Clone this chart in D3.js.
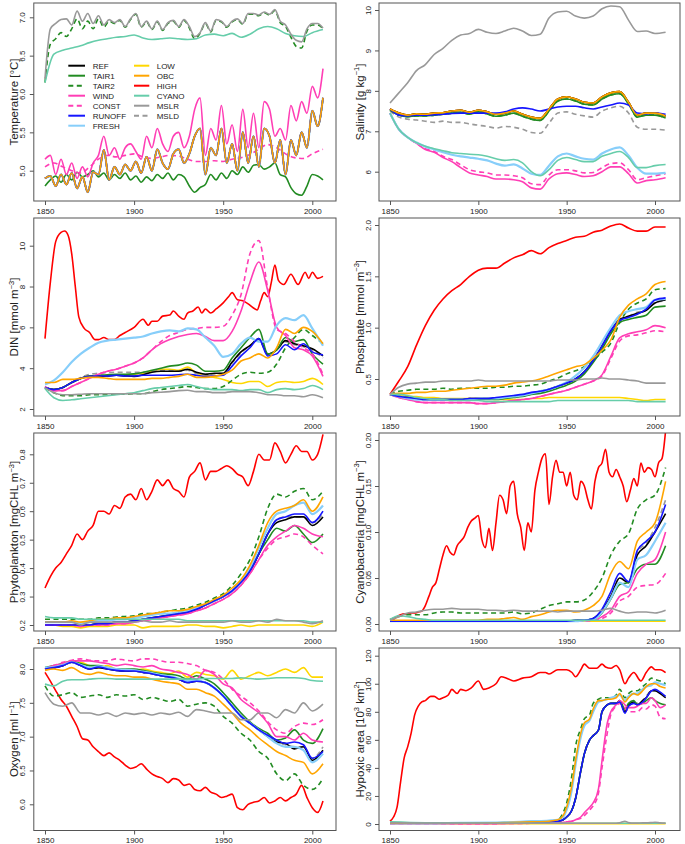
<!DOCTYPE html>
<html><head><meta charset="utf-8">
<script src="https://cdn.jsdelivr.net/npm/d3@7"></script>
<style>body{margin:0;background:#fff}svg text{font-family:"Liberation Sans",Arial,Helvetica,sans-serif;fill:#222}</style>
</head><body><script>
// ---------- year grids ----------
const Y5 = [1850,1855,1860,1865,1870,1875,1880,1885,1890,1895,1900,1905,1910,1915,1920,1925,1930,1935,1940,1945,1950,1955,1960,1965,1970,1975,1980,1985,1990,1995,2000,2006];
const Y3 = d3.range(1850, 2007, 3);
const Y2 = d3.range(1850, 2007, 2);
const xTicks = [1850, 1900, 1950, 2000];
const scenarios = ["REF","TAIR1","TAIR2","WIND","CONST","RUNOFF","FRESH","LOW","OBC","HIGH","CYANO","MSLR","MSLD"];

// ---------- Temperature ----------
const tempREF = [4.90,4.93,4.80,4.95,4.82,4.97,4.77,4.92,4.72,4.98, 4.95,5.27,4.88,5.05,4.95,5.08,5.00,5.12,4.97,5.18, 5.00,5.28,5.10,5.02,5.22,5.28,5.10,5.22,5.45,5.55, 4.95,5.30,5.20,5.55,5.10,5.35,5.00,5.50,5.10,5.45, 5.05,5.55,5.45,5.10,5.40,4.95,5.40,5.20,5.50,5.30, 5.78,5.58,5.95];
const tempWIND = [5.15,5.20,4.95,5.15,4.95,5.10,4.90,5.05,4.92,5.10, 5.20,5.45,5.20,5.30,5.15,5.30,5.35,5.25,5.15,5.45, 5.30,5.55,5.35,5.25,5.45,5.50,5.30,5.45,5.80,5.95, 5.20,5.55,5.40,5.85,5.35,5.60,5.25,5.80,5.30,5.75, 5.30,5.90,5.80,5.45,5.55,5.40,5.85,5.65,5.90,5.75, 6.10,5.95,6.33];
const tempTAIR1 = [4.80,4.88,4.93,4.85,4.95,4.88,4.98,4.92,4.95,5.00, 4.92,4.97,4.88,4.95,4.90,4.97,4.88,4.93,4.85,4.92, 4.87,4.95,4.90,4.97,4.88,4.95,4.92,4.80,4.72,4.78, 4.82,4.95,4.88,4.97,4.90,5.00,4.95,5.05,4.98,5.07, 5.08,5.02,5.05,5.10,4.95,4.92,4.78,4.70,4.68,4.80, 4.95,4.93,4.88];
const tempMSLR = [6.20,6.85,6.92,6.97,6.98,6.90,7.08,6.95,7.05,6.92, 7.02,6.90,6.97,6.93,6.97,6.88,6.98,7.05,6.88,6.95, 6.85,6.95,6.84,6.93,6.96,6.88,6.97,6.88,6.75,6.80, 6.93,6.82,6.97,6.95,6.88,6.95,6.98,6.92,7.05,7.05, 7.03,7.07,7.04,7.10,6.95,6.90,6.78,6.70,6.68,6.85, 6.92,6.92,6.86];
const tempTAIR2 = [6.15,6.65,6.72,6.80,6.75,6.85,6.98,6.85,6.95,6.85, 6.98,6.87,6.95,6.92,6.96,6.87,6.97,7.04,6.87,6.94, 6.84,6.94,6.83,6.92,6.95,6.87,6.96,6.86,6.72,6.79, 6.92,6.81,6.96,6.94,6.87,6.94,6.97,6.91,7.04,7.04, 7.02,7.06,7.03,7.09,6.93,6.88,6.74,6.62,6.60,6.82, 6.90,6.90,6.85];
const tempCYANO = [6.15,6.52,6.57,6.60,6.63,6.67,6.70,6.72, 6.74,6.75,6.77,6.73,6.71,6.72,6.73,6.72, 6.71,6.72,6.77,6.78,6.76,6.79,6.74,6.78, 6.85,6.88,6.85,6.79,6.76,6.75,6.80,6.84];
const tempCONST = [5.05,5.10,5.05,5.00,4.97,5.05,5.15,5.20, 5.18,5.20,5.22,5.18,5.16,5.18,5.20,5.19, 5.15,5.12,5.12,5.13,5.12,5.15,5.17,5.21, 5.28,5.34,5.30,5.22,5.17,5.16,5.22,5.28];

// ---------- Salinity ----------
const salMSLR = [7.70,7.95,8.20,8.50,8.65,8.90,9.05,9.25, 9.38,9.42,9.52,9.45,9.42,9.48,9.55,9.48, 9.37,9.40,9.80,9.95,9.97,9.85,9.80,9.85, 10.03,10.10,10.08,9.75,9.47,9.48,9.42,9.45];
const salMain = [7.55,7.45,7.40,7.43,7.42,7.45,7.46,7.50, 7.52,7.47,7.52,7.48,7.42,7.45,7.50,7.42, 7.35,7.32,7.55,7.80,7.85,7.80,7.72,7.70, 7.85,7.95,7.98,7.72,7.40,7.45,7.45,7.38];
const salTAIR = [7.53,7.40,7.36,7.38,7.38,7.40,7.42,7.45, 7.47,7.42,7.48,7.43,7.37,7.40,7.45,7.37, 7.30,7.27,7.50,7.75,7.80,7.75,7.67,7.65, 7.80,7.90,7.93,7.68,7.35,7.40,7.40,7.33];
const salRUNOFF = [7.55,7.40,7.38,7.40,7.40,7.41,7.42,7.44, 7.45,7.45,7.45,7.45,7.45,7.48,7.55,7.58, 7.55,7.50,7.55,7.60,7.62,7.62,7.58,7.55, 7.60,7.65,7.70,7.65,7.45,7.43,7.45,7.42];
const salMSLD = [7.50,7.35,7.30,7.28,7.25,7.22,7.25,7.22, 7.22,7.18,7.15,7.12,7.08,7.12,7.10,7.05, 6.97,6.95,7.20,7.45,7.48,7.42,7.38,7.35, 7.50,7.58,7.62,7.45,7.10,7.05,7.05,7.03];
const salFRESH = [7.45,7.05,6.85,6.72,6.62,6.55,6.48,6.42, 6.38,6.35,6.32,6.28,6.20,6.15,6.18,6.08, 5.95,5.92,6.15,6.38,6.45,6.38,6.32,6.30, 6.45,6.55,6.60,6.40,6.10,5.95,5.95,5.97];
const salCYANO = [7.45,7.05,6.85,6.72,6.63,6.57,6.52,6.47, 6.45,6.43,6.42,6.38,6.32,6.28,6.30,6.22, 6.00,5.90,6.05,6.28,6.35,6.30,6.25,6.25, 6.38,6.45,6.50,6.35,6.10,6.10,6.15,6.18];
const salWIND = [7.45,7.05,6.85,6.70,6.55,6.48,6.35,6.25, 6.10,5.97,5.92,5.88,5.82,5.82,5.80,5.75, 5.60,5.57,5.82,5.95,5.97,5.93,5.88,5.90, 6.00,6.12,6.12,5.95,5.72,5.78,5.80,5.85];
const salCONST = [7.45,7.05,6.85,6.70,6.57,6.50,6.38,6.30, 6.17,6.05,6.00,5.97,5.92,5.92,5.90,5.85, 5.70,5.68,5.92,6.05,6.05,6.02,5.97,5.98, 6.10,6.20,6.22,6.05,5.80,5.85,5.90,5.95];

// ---------- DIN ----------
const dinHighYears = [1850,1853,1856,1859,1861,1863,1865,1867,1869,1872,1875,1878,1880,1883,1886,1889,1892,1895,1900,1905,1908,1910,1913,1916,1920,1922,1925,1928,1930,1933,1936,1938,1940,1943,1946,1950,1953,1955,1958,1961,1964,1967,1969,1971,1973,1975,1977,1979,1981,1984,1988,1992,1996,1998,2000,2003,2006];
const dinHIGH = [5.45,8.20,10.20,10.65,10.72,10.50,9.60,8.00,6.50,5.95, 5.75,5.40,5.40,5.50,5.40,5.40,5.60,5.75,6.00,6.40, 6.10,6.30,6.30,6.55,6.60,6.80,6.55,6.40,6.70,6.80, 7.00,6.70,6.90,6.70,6.90,7.20,7.50, 7.70,7.35,7.30,7.15,6.95,6.85,7.30,7.70,7.50,8.20,9.05,8.30,8.10,8.60,8.10,8.70,8.40,8.70,8.40,8.50];
const dinFRESH = [3.20,3.40,3.80,4.30,4.70,5.00,5.25,5.35, 5.40,5.45,5.50,5.55,5.70,5.80,5.85,5.80, 5.95,5.90,5.50,5.10,4.55,4.70,5.20,5.50, 5.30,5.30,6.10,6.45,6.35,6.60,5.95,5.10];
const dinWIND = [3.10,2.90,2.90,3.10,3.30,3.50,3.70,3.85, 3.95,4.10,4.25,4.50,4.90,5.20,5.40,5.55, 5.65,5.70,5.55,5.35,5.35,5.80,6.80,8.20, 9.20,7.80,6.00,5.60,5.00,4.90,4.60,3.60];
const dinCONST = [3.10,2.90,2.90,3.10,3.30,3.50,3.70,3.85, 3.95,4.10,4.25,4.50,4.90,5.30,5.60,5.75, 5.90,5.95,6.00,6.00,6.05,6.60,7.60,9.60, 10.25,7.90,5.90,5.70,5.30,5.00,4.70,3.70];
const dinREF = [3.05,2.95,3.05,3.30,3.50,3.60,3.60,3.62, 3.65,3.62,3.60,3.68,3.80,3.85,3.85,3.85, 3.95,3.80,3.70,3.75,3.75,4.30,4.80,5.10, 5.45,4.70,4.90,5.35,5.20,5.10,4.95,4.60];
const dinTAIR1 = [3.05,2.95,3.05,3.30,3.50,3.62,3.65,3.68, 3.70,3.70,3.72,3.80,3.90,4.00,4.10,4.15, 4.25,4.15,3.85,3.85,3.90,4.50,5.00,5.50, 5.90,4.70,4.90,5.50,5.30,5.40,4.70,4.20];
const dinRUNOFF = [3.05,2.95,3.05,3.30,3.50,3.60,3.62,3.62, 3.65,3.62,3.62,3.65,3.65,3.65,3.65,3.68, 3.70,3.65,3.60,3.62,3.65,4.10,4.60,5.00, 5.45,4.60,4.70,5.15,4.90,5.20,4.80,4.65];
const dinOBC = [3.30,3.30,3.45,3.45,3.50,3.55,3.55,3.50, 3.45,3.45,3.45,3.45,3.50,3.50,3.55,3.60, 3.70,3.55,3.55,3.60,3.70,3.90,4.35,4.50, 4.70,4.50,5.00,5.90,5.70,6.00,5.80,5.20];
const dinTAIR2 = [3.05,2.80,2.65,2.65,2.65,2.70,2.70,2.70, 2.72,2.72,2.75,2.75,2.85,2.95,3.00,3.05, 3.10,3.05,3.00,3.00,3.10,3.40,3.70,3.80, 3.75,3.80,4.20,5.00,5.50,5.90,5.60,5.20];
const dinLOW = [3.05,2.95,3.05,3.30,3.50,3.60,3.60,3.65, 3.65,3.65,3.70,3.75,3.85,3.95,3.95,3.90, 4.05,3.75,3.65,3.55,3.45,3.30,3.25,3.35, 3.35,3.10,3.30,3.35,3.30,3.35,3.50,3.20];
const dinMSLD = [3.05,2.95,3.05,3.30,3.55,3.70,3.75,3.78, 3.80,3.80,3.80,3.80,3.85,3.88,3.88,3.85, 3.90,3.75,3.70,3.72,3.75,4.25,4.75,5.10, 5.40,4.65,4.90,5.30,5.15,5.05,4.90,4.50];
const dinMSLR = [3.05,2.80,2.70,2.70,2.72,2.75,2.75,2.75, 2.75,2.75,2.75,2.75,2.80,2.82,2.85,2.90, 2.92,2.85,2.85,2.80,2.80,2.85,2.85,2.85, 2.80,2.70,2.70,2.65,2.65,2.60,2.70,2.55];
const dinCYANO = [3.00,2.55,2.42,2.45,2.50,2.55,2.60,2.65, 2.70,2.75,2.80,2.90,3.00,3.05,3.10,3.15, 3.20,3.10,3.00,2.95,2.95,2.95,2.90,2.95, 2.95,2.80,2.95,3.00,2.95,3.00,3.15,2.95];

// ---------- Phosphate ----------
const phHIGH = [0.35,0.48,0.62,0.83,1.02,1.17,1.28,1.36, 1.42,1.50,1.56,1.58,1.58,1.63,1.68,1.71, 1.75,1.72,1.78,1.82,1.85,1.88,1.89,1.93, 1.95,1.99,2.01,1.97,1.94,1.94,1.98,1.98];
const phOBC = [0.35,0.36,0.36,0.37,0.37,0.38,0.38,0.39, 0.40,0.41,0.42,0.43,0.43,0.44,0.46,0.47, 0.48,0.50,0.53,0.56,0.59,0.62,0.64,0.70, 0.78,0.88,1.10,1.22,1.28,1.33,1.42,1.45];
const phTAIR2 = [0.35,0.38,0.39,0.40,0.40,0.40,0.41,0.40, 0.41,0.41,0.41,0.41,0.42,0.42,0.43,0.43, 0.44,0.45,0.48,0.51,0.55,0.58,0.62,0.68, 0.76,0.85,1.05,1.18,1.24,1.28,1.37,1.38];
const phREF = [0.35,0.33,0.32,0.31,0.30,0.30,0.30,0.30, 0.30,0.31,0.31,0.31,0.31,0.32,0.33,0.34, 0.36,0.38,0.40,0.43,0.46,0.50,0.57,0.68, 0.82,0.97,1.08,1.11,1.14,1.17,1.24,1.27];
const phRUNOFF = [0.35,0.33,0.32,0.31,0.30,0.30,0.30,0.30, 0.30,0.31,0.31,0.31,0.32,0.33,0.34,0.35, 0.37,0.38,0.40,0.43,0.46,0.50,0.57,0.68, 0.82,0.97,1.07,1.10,1.13,1.18,1.27,1.29];
const phFRESH = [0.35,0.33,0.31,0.30,0.30,0.30,0.30,0.30, 0.30,0.30,0.31,0.31,0.31,0.32,0.33,0.34, 0.36,0.38,0.40,0.43,0.47,0.53,0.61,0.72, 0.86,1.00,1.12,1.16,1.18,1.20,1.27,1.28];
const phTAIR1 = [0.35,0.33,0.32,0.31,0.30,0.30,0.30,0.30, 0.30,0.30,0.30,0.30,0.30,0.31,0.32,0.33, 0.35,0.36,0.38,0.41,0.44,0.48,0.55,0.66, 0.79,0.94,1.05,1.08,1.10,1.12,1.20,1.21];
const phMSLD = [0.35,0.33,0.32,0.31,0.30,0.30,0.30,0.30, 0.30,0.31,0.31,0.31,0.31,0.32,0.33,0.34, 0.36,0.38,0.40,0.43,0.46,0.50,0.57,0.68, 0.82,0.96,1.07,1.11,1.15,1.17,1.25,1.26];
const phWIND = [0.35,0.32,0.30,0.28,0.27,0.27,0.27,0.27, 0.27,0.27,0.26,0.26,0.27,0.28,0.29,0.30, 0.31,0.33,0.35,0.37,0.39,0.42,0.45,0.48, 0.54,0.72,0.90,0.94,0.96,0.98,1.02,1.00];
const phCONST = [0.35,0.32,0.30,0.28,0.27,0.27,0.27,0.27, 0.27,0.27,0.26,0.26,0.27,0.28,0.29,0.30, 0.31,0.33,0.35,0.37,0.39,0.42,0.45,0.48, 0.53,0.70,0.87,0.92,0.93,0.95,0.97,0.96];
const phLOW = [0.35,0.34,0.33,0.33,0.32,0.32,0.31,0.31, 0.31,0.31,0.31,0.31,0.30,0.30,0.30,0.30, 0.31,0.31,0.32,0.32,0.32,0.32,0.32,0.32, 0.32,0.32,0.32,0.31,0.30,0.29,0.30,0.30];
const phCYANO = [0.35,0.35,0.34,0.32,0.31,0.30,0.30,0.29, 0.29,0.29,0.29,0.28,0.28,0.28,0.28,0.28, 0.28,0.28,0.28,0.29,0.29,0.29,0.29,0.29, 0.29,0.29,0.29,0.29,0.28,0.28,0.28,0.28];
const phMSLR = [0.35,0.42,0.45,0.46,0.47,0.47,0.48,0.48, 0.48,0.48,0.49,0.48,0.48,0.48,0.48,0.48, 0.48,0.48,0.48,0.49,0.49,0.49,0.50,0.50, 0.51,0.50,0.50,0.49,0.48,0.46,0.46,0.46];

// ---------- Phytoplankton ----------
const phyHIGH = [0.33,0.37,0.40,0.42,0.45,0.48,0.52,0.50,0.53,0.55, 0.60,0.60,0.59,0.62,0.61,0.65,0.66,0.64,0.68,0.64, 0.67,0.71,0.69,0.71,0.68,0.67,0.65,0.72,0.74,0.77, 0.71,0.74,0.74,0.75,0.76,0.75,0.73,0.72,0.69,0.74, 0.80,0.78,0.78,0.84,0.81,0.77,0.80,0.83,0.81,0.81, 0.78,0.80,0.87];
const phyTAIR2 = [0.22,0.22,0.22,0.22,0.22,0.22,0.225,0.225, 0.228,0.23,0.232,0.24,0.24,0.245,0.25,0.255, 0.26,0.27,0.28,0.295,0.31,0.34,0.38,0.43, 0.51,0.61,0.66,0.65,0.67,0.68,0.64,0.67];
const phyOBC = [0.21,0.21,0.21,0.215,0.21,0.215,0.22,0.22, 0.225,0.225,0.23,0.235,0.24,0.245,0.25,0.25, 0.255,0.265,0.275,0.29,0.305,0.33,0.36,0.41, 0.48,0.56,0.60,0.61,0.62,0.64,0.60,0.65];
const phyFRESH = [0.21,0.21,0.21,0.21,0.205,0.21,0.215,0.215, 0.22,0.22,0.225,0.23,0.235,0.24,0.24,0.245, 0.25,0.26,0.27,0.285,0.30,0.32,0.35,0.40, 0.47,0.54,0.59,0.60,0.62,0.63,0.59,0.62];
const phyREF = [0.20,0.20,0.20,0.20,0.20,0.20,0.205,0.205, 0.21,0.21,0.215,0.22,0.225,0.23,0.235,0.24, 0.245,0.255,0.27,0.285,0.30,0.32,0.35,0.39, 0.45,0.52,0.56,0.57,0.58,0.58,0.55,0.58];
const phyRUNOFF = [0.20,0.20,0.20,0.20,0.20,0.20,0.205,0.205, 0.21,0.21,0.215,0.22,0.225,0.23,0.235,0.24, 0.245,0.255,0.27,0.285,0.30,0.32,0.35,0.39, 0.45,0.52,0.57,0.58,0.59,0.59,0.56,0.60];
const phyMSLD = [0.20,0.20,0.20,0.20,0.20,0.20,0.205,0.205, 0.21,0.21,0.215,0.22,0.225,0.23,0.235,0.24, 0.245,0.255,0.27,0.285,0.30,0.32,0.35,0.39, 0.45,0.52,0.57,0.58,0.58,0.58,0.56,0.59];
const phyTAIR1 = [0.20,0.20,0.20,0.20,0.20,0.20,0.205,0.205, 0.21,0.21,0.215,0.22,0.225,0.23,0.235,0.24, 0.245,0.255,0.27,0.285,0.30,0.32,0.35,0.39, 0.45,0.50,0.54,0.53,0.55,0.52,0.49,0.52];
const phyWIND = [0.20,0.20,0.20,0.20,0.195,0.20,0.20,0.20, 0.205,0.205,0.21,0.215,0.22,0.225,0.23,0.235, 0.24,0.25,0.26,0.275,0.29,0.31,0.34,0.38, 0.43,0.48,0.51,0.53,0.55,0.54,0.52,0.51];
const phyCONST = [0.20,0.20,0.20,0.20,0.195,0.20,0.20,0.20, 0.205,0.205,0.21,0.215,0.22,0.225,0.23,0.235, 0.24,0.25,0.26,0.275,0.29,0.31,0.34,0.38, 0.43,0.47,0.50,0.51,0.52,0.51,0.48,0.45];
const phyMSLR = [0.21,0.21,0.21,0.21,0.20,0.21,0.21,0.21, 0.21,0.21,0.21,0.215,0.21,0.21,0.215,0.21, 0.21,0.21,0.21,0.21,0.21,0.215,0.21,0.21, 0.215,0.21,0.22,0.215,0.215,0.21,0.205,0.215];
const phyCYANO = [0.23,0.225,0.225,0.225,0.22,0.22,0.22,0.22, 0.22,0.22,0.22,0.22,0.22,0.22,0.22,0.22, 0.215,0.215,0.215,0.215,0.215,0.215,0.215,0.215, 0.215,0.215,0.215,0.215,0.215,0.215,0.21,0.21];
const phyLOW = [0.20,0.20,0.195,0.195,0.19,0.195,0.195,0.195, 0.20,0.20,0.20,0.19,0.195,0.195,0.195,0.195, 0.20,0.20,0.195,0.195,0.19,0.195,0.20,0.195, 0.20,0.20,0.20,0.20,0.20,0.20,0.195,0.21];

// ---------- Cyanobacteria ----------
const cyHIGH = [.004,.005,.008,.010,.011,.011,.012,.012,.013,.014, .020,.030,.040,.045,.060,.075,.085,.078,.075,.085, .090,.095,.105,.112,.115,.118,.092,.083,.104,.080, .110,.140,.135,.120,.150,.155,.120,.105,.080,.110, .100,.145,.165,.180,.185,.130,.160,.178,.165,.165, .150,.165,.140,.135,.155,.150,.135,.125,.155,.170, .175,.190,.165,.160,.168,.160,.150,.133,.145,.158, .150,.175,.165,.170,.168,.160,.175,.180,.210];
const cyTAIR2 = [.005,.008,.010,.010,.010,.012,.013,.013, .012,.012,.012,.012,.012,.012,.013,.011, .012,.016,.020,.022,.024,.024,.026,.035, .050,.075,.090,.098,.125,.135,.140,.170];
const cyOBC = [.004,.004,.004,.004,.004,.004,.004,.004, .004,.004,.004,.005,.005,.006,.007,.005, .008,.010,.013,.015,.015,.013,.015,.020, .030,.055,.068,.060,.090,.100,.110,.155];
const cyREF = [.003,.003,.003,.003,.003,.003,.003,.003, .003,.003,.003,.003,.003,.003,.003,.003, .003,.003,.003,.003,.003,.004,.004,.006, .015,.030,.050,.045,.075,.085,.100,.120];
const cyRUNOFF = [.003,.003,.003,.003,.003,.003,.003,.003, .003,.003,.003,.003,.003,.003,.003,.003, .003,.003,.003,.003,.003,.004,.004,.006, .016,.035,.055,.046,.080,.090,.100,.130];
const cyFRESH = [.003,.003,.003,.003,.003,.003,.003,.003, .003,.003,.003,.003,.003,.003,.003,.003, .003,.003,.003,.003,.003,.003,.004,.005, .013,.028,.045,.040,.070,.075,.090,.110];
const cyTAIR1 = [.003,.003,.003,.003,.003,.003,.003,.003, .003,.003,.003,.003,.003,.003,.003,.003, .003,.003,.003,.003,.003,.003,.004,.005, .012,.027,.043,.045,.060,.065,.065,.085];
const cyMSLD = [.003,.003,.003,.003,.003,.003,.003,.003, .003,.003,.003,.003,.003,.003,.003,.003, .003,.003,.003,.003,.003,.004,.004,.006, .015,.030,.050,.046,.078,.088,.105,.135];
const cyWIND = [.003,.003,.003,.003,.003,.003,.003,.003, .003,.003,.003,.003,.003,.003,.003,.003, .003,.003,.003,.003,.003,.003,.004,.004, .008,.015,.030,.035,.055,.065,.070,.100];
const cyCONST = [.003,.003,.003,.003,.003,.003,.003,.003, .003,.003,.003,.003,.003,.003,.003,.003, .003,.003,.003,.003,.003,.003,.003,.004, .006,.012,.025,.030,.040,.042,.043,.055];
const cyMSLR = [.004,.008,.012,.013,.015,.016,.016,.017, .016,.016,.016,.015,.015,.014,.015,.014, .014,.014,.014,.013,.014,.014,.014,.014, .015,.017,.014,.012,.013,.013,.012,.015];
const cyCYANO = [.005,.009,.008,.006,.005,.004,.004,.004, .004,.004,.004,.004,.004,.004,.004,.004, .004,.004,.004,.004,.004,.004,.004,.004, .004,.004,.004,.004,.004,.004,.004,.004];
const cyLOW = [.003,.003,.003,.003,.003,.003,.003,.003, .003,.003,.003,.003,.003,.003,.003,.003, .003,.003,.003,.003,.003,.003,.003,.003, .003,.003,.003,.003,.003,.003,.003,.003];

// ---------- Oxygen ----------
const oxHIGH = [7.95,7.82,7.68,7.55,7.45,7.30,7.15,6.97,6.95,6.85, 6.78,6.72,6.76,6.70,6.65,6.58,6.53,6.55,6.60,6.52, 6.45,6.41,6.38,6.32,6.38,6.36,6.28,6.30,6.22,6.20, 6.25,6.18,6.15,6.10,6.12,6.15,5.95,5.92,6.00,6.03, 6.05,6.10,6.02,6.05,6.10,6.05,6.10,6.15,6.28,6.10, 5.95,5.88,6.05];
const oxLOW = [8.00,8.02,8.05,8.10,8.10,8.05,8.02,8.05, 8.00,8.00,7.98,8.00,7.97,7.95,7.93,7.97, 7.88,7.95,7.92,7.90,7.85,7.98,7.85,7.90, 7.95,7.90,7.95,8.00,7.95,8.02,7.88,7.88];
const oxCYANO = [7.78,7.75,7.82,7.84,7.84,7.85,7.86,7.86, 7.85,7.85,7.85,7.85,7.85,7.85,7.85,7.85, 7.85,7.85,7.86,7.86,7.86,7.86,7.87,7.86, 7.85,7.86,7.87,7.87,7.87,7.86,7.83,7.82];
const oxMSLR = [7.65,7.48,7.45,7.50,7.35,7.35,7.32,7.35, 7.30,7.35,7.33,7.35,7.32,7.35,7.33,7.36, 7.30,7.40,7.38,7.35,7.35,7.35,7.25,7.25, 7.35,7.35,7.28,7.40,7.35,7.50,7.38,7.48];
const oxTAIR2 = [7.75,7.60,7.62,7.65,7.58,7.60,7.62,7.58, 7.62,7.60,7.62,7.55,7.58,7.55,7.52,7.55, 7.45,7.48,7.50,7.45,7.30,7.20,7.05,6.95, 6.78,6.68,6.45,6.35,6.45,6.28,6.22,6.38];
const oxREF = [8.00,8.02,8.05,8.10,8.05,8.00,8.02,8.00, 7.98,7.97,7.97,7.95,7.93,7.90,7.88,7.85, 7.80,7.82,7.80,7.72,7.60,7.45,7.30,7.20, 7.10,7.00,6.92,6.90,6.82,6.85,6.65,6.80];
const oxRUNOFF = [8.00,8.02,8.05,8.10,8.05,8.00,8.03,8.00, 7.98,7.97,7.97,7.95,7.93,7.90,7.88,7.85, 7.80,7.82,7.80,7.72,7.60,7.45,7.30,7.20, 7.10,7.02,6.95,6.90,6.92,6.88,6.68,6.78];
const oxFRESH = [8.02,8.03,8.06,8.10,8.06,8.02,8.04,8.02, 8.00,7.99,7.98,7.96,7.94,7.91,7.89,7.86, 7.82,7.83,7.80,7.72,7.60,7.45,7.30,7.20, 7.10,7.00,6.90,6.85,6.85,6.80,6.62,6.75];
const oxMSLD = [8.00,8.02,8.05,8.10,8.05,8.00,8.02,8.00, 7.98,7.97,7.97,7.95,7.93,7.90,7.88,7.85, 7.80,7.82,7.80,7.72,7.60,7.45,7.30,7.20, 7.10,7.00,6.92,6.88,6.85,6.85,6.68,6.85];
const oxOBC = [7.98,8.00,7.98,8.02,7.95,7.92,7.95,7.92, 7.90,7.90,7.88,7.88,7.85,7.82,7.80,7.78, 7.70,7.70,7.65,7.60,7.48,7.35,7.20,7.10, 6.98,6.88,6.78,6.72,6.65,6.62,6.45,6.60];
const oxTAIR1 = [8.02,8.05,8.08,8.12,8.08,8.05,8.05,8.02, 8.00,8.00,8.00,7.98,7.95,7.93,7.92,7.90, 7.85,7.90,7.85,7.78,7.65,7.50,7.35,7.22, 7.12,7.05,6.95,6.98,7.10,6.95,6.90,7.12];
const oxWIND = [8.00,8.05,8.08,8.12,8.12,8.12,8.10,8.08, 8.05,8.07,8.05,8.03,8.05,8.00,7.98,7.95, 7.92,7.85,7.98,7.92,7.78,7.72,7.55,7.45, 7.35,7.20,7.00,7.00,6.95,7.05,6.95,6.92];
const oxCONST = [8.00,8.05,8.10,8.13,8.15,8.13,8.12,8.12, 8.15,8.13,8.12,8.15,8.15,8.12,8.10,8.10, 8.08,8.05,7.98,7.95,7.85,7.70,7.60,7.50, 7.38,7.22,7.10,7.05,7.15,7.20,7.18,7.25];

// ---------- Hypoxic area ----------
const hyHighYears = [1850,1852,1854,1856,1858,1860,1862,1864,1866,1868, 1870,1873,1875,1878,1880,1883,1885,1888,1890,1893, 1896,1900,1903,1906,1910,1913,1916,1920,1925,1930, 1935,1938,1940,1945,1950,1953,1955,1958,1960,1963, 1967,1970,1972,1975,1978,1980,1983,1985,1988,1992, 1995,1998,2000,2003,2006];
const hyHIGH = [2,5,12,30,47,55,65,78,84,87, 88,91,91,89,90,92,96,93,96,95, 97,102,96,97,100,105,104,102,104,105, 108,108,107,110,110,108,105,110,114,111, 111,114,112,111,113,110,100,104,108,102, 108,112,110,110,108];
const hyYears = [1850,1870,1890,1910,1930, 1940,1945,1948,1950,1953, 1955,1958,1960,1963,1965, 1968,1970,1973,1975,1978, 1980,1983,1985,1988,1990, 1993,1995,1998,2000,2003, 2006];
const hyTAIR2 = [0.5,0.5,0.5,0.8,1.5, 2,3,8,15,35, 55,68,75,78,86, 89,90,90,90,92, 96,90,93,95,95, 98,100,104,103,102, 100];
const hyOBC = [0.5,0.5,0.5,0.8,1.5, 2,3,6,12,28, 45,65,72,75,82, 88,88,89,89,90, 93,87,90,93,92, 95,98,100,100,98, 97];
const hyFRESH = [0.5,0.5,0.8,1,2, 2.5,3,5,10,25, 42,62,70,74,80, 87,88,89,90,91, 92,88,91,93,93, 96,98,99,101,100, 99];
const hyREF = [0.5,0.5,0.5,0.5,1, 1.5,2,3,5,10, 18,38,50,60,63, 67,80,85,86,86, 88,80,85,87,85, 88,90,95,95,93, 90];
const hyRUNOFF = [0.5,0.5,0.5,0.5,1, 1.5,2,3,5,10, 18,38,50,60,63, 67,80,85,86,86, 87,79,84,86,85, 87,90,95,96,94, 91];
const hyTAIR1 = [0.5,0.5,0.5,0.5,1, 1.5,2,3,5,10, 18,38,50,60,63, 67,80,85,86,86, 88,82,86,88,85, 86,88,90,88,86, 85];
const hyMSLD = [0.5,0.5,0.5,0.5,1, 1.5,2,3,5,10, 18,38,50,60,63, 67,80,85,86,86, 88,80,85,87,86, 88,91,95,95,93, 90];
const hyWIND = [0.3,0.3,0.3,0.3,0.5, 0.8,1,1,1.5,2, 3,5,8,12,15, 25,45,72,80,85, 88,85,83,83,84, 86,86,90,88,83, 85];
const hyCONST = [0.3,0.3,0.3,0.3,0.5, 0.8,1,1,1.5,2, 3,4,6,10,13, 22,40,65,78,84, 86,83,80,80,80, 83,82,85,84,76, 75];
const hyMSLR = [0.8,0.6,0.5,0.5,0.5, 0.5,0.5,0.5,0.5,0.5, 0.5,0.5,0.5,0.5,0.5, 0.5,0.5,0.5,0.5,0.5, 0.8,2,1,0.6,0.6, 0.8,0.8,1,1.2,0.8, 0.6];
const hyLOW = [0.3,0.3,0.3,0.3,0.3, 0.3,0.3,0.3,0.3,0.3, 0.3,0.3,0.3,0.3,0.3, 0.3,0.3,0.3,0.3,0.3, 0.3,0.3,0.3,0.3,0.3, 0.3,0.3,0.3,0.3,0.3, 0.3];
const hyCYANO = [1.5,0.8,0.6,0.5,0.5, 0.5,0.5,0.5,0.5,0.5, 0.5,0.5,0.5,0.5,0.5, 0.5,0.5,0.5,0.5,0.5, 0.5,0.5,0.5,0.5,0.5, 0.5,0.5,0.5,0.5,0.5, 0.5];

// ---------- styles ----------
const STYLE = {
  REF:{c:"#000000"}, TAIR1:{c:"#228B22"}, TAIR2:{c:"#228B22",d:"5,3.5"},
  WIND:{c:"#FF3EB5"}, CONST:{c:"#FF3EB5",d:"5,3.5"}, RUNOFF:{c:"#1515FF"},
  FRESH:{c:"#87CEFA",w:2.2}, LOW:{c:"#FFD700"}, OBC:{c:"#FFA500"}, HIGH:{c:"#FF0000"},
  CYANO:{c:"#66CDAA"}, MSLR:{c:"#999999"}, MSLD:{c:"#999999",d:"5,3.5"}
};
const ORDER = ["HIGH","LOW","MSLD","REF","TAIR1","TAIR2","CONST","WIND","FRESH","RUNOFF","OBC","CYANO","MSLR"];

const panels = [
 {col:0,row:0,title:[["Temperature [°C]"]], yA:[5,7], pA:[170.7,17.3], ticks:[5,5.5,6,6.5,7], fmt:".1f", legend:true,
  s:{REF:[Y3,tempREF],TAIR1:[Y3,tempTAIR1],TAIR2:[Y3,tempTAIR2],WIND:[Y3,tempWIND],CONST:[Y5,tempCONST],RUNOFF:[Y3,tempREF],FRESH:[Y3,tempREF],LOW:[Y3,tempREF],OBC:[Y3,tempREF],HIGH:[Y3,tempREF],CYANO:[Y5,tempCYANO],MSLR:[Y3,tempMSLR],MSLD:[Y3,tempREF]}},
 {col:1,row:0,title:[["Salinity [g kg"],["−1","sup"],["]"]], yA:[6,10], pA:[171.7,10], ticks:[6,7,8,9,10], fmt:"d",
  s:{REF:[Y5,salMain],TAIR1:[Y5,salTAIR],TAIR2:[Y5,salTAIR],WIND:[Y5,salWIND],CONST:[Y5,salCONST],RUNOFF:[Y5,salRUNOFF],FRESH:[Y5,salFRESH],LOW:[Y5,salMain],OBC:[Y5,salMain],HIGH:[Y5,salMain],CYANO:[Y5,salCYANO],MSLR:[Y5,salMSLR],MSLD:[Y5,salMSLD]}},
 {col:0,row:1,title:[["DIN [mmol m"],["−3","sup"],["]"]], yA:[2,10], pA:[409,245.7], ticks:[2,4,6,8,10], fmt:"d",
  s:{REF:[Y5,dinREF],TAIR1:[Y5,dinTAIR1],TAIR2:[Y5,dinTAIR2],WIND:[Y5,dinWIND],CONST:[Y5,dinCONST],RUNOFF:[Y5,dinRUNOFF],FRESH:[Y5,dinFRESH],LOW:[Y5,dinLOW],OBC:[Y5,dinOBC],HIGH:[dinHighYears,dinHIGH],CYANO:[Y5,dinCYANO],MSLR:[Y5,dinMSLR],MSLD:[Y5,dinMSLD]}},
 {col:1,row:1,title:[["Phosphate [mmol m"],["−3","sup"],["]"]], yA:[0.5,2], pA:[379,225], ticks:[0.5,1,1.5,2], fmt:".1f",
  s:{REF:[Y5,phREF],TAIR1:[Y5,phTAIR1],TAIR2:[Y5,phTAIR2],WIND:[Y5,phWIND],CONST:[Y5,phCONST],RUNOFF:[Y5,phRUNOFF],FRESH:[Y5,phFRESH],LOW:[Y5,phLOW],OBC:[Y5,phOBC],HIGH:[Y5,phHIGH],CYANO:[Y5,phCYANO],MSLR:[Y5,phMSLR],MSLD:[Y5,phMSLD]}},
 {col:0,row:2,title:[["Phytoplankton [mgCHL m"],["−3","sup"],["]"]], yA:[0.2,0.8], pA:[625,454.3], ticks:[0.2,0.3,0.4,0.5,0.6,0.7,0.8], fmt:".1f",
  s:{REF:[Y5,phyREF],TAIR1:[Y5,phyTAIR1],TAIR2:[Y5,phyTAIR2],WIND:[Y5,phyWIND],CONST:[Y5,phyCONST],RUNOFF:[Y5,phyRUNOFF],FRESH:[Y5,phyFRESH],LOW:[Y5,phyLOW],OBC:[Y5,phyOBC],HIGH:[Y3,phyHIGH],CYANO:[Y5,phyCYANO],MSLR:[Y5,phyMSLR],MSLD:[Y5,phyMSLD]}},
 {col:1,row:2,title:[["Cyanobacteria [mgCHL m"],["−3","sup"],["]"]], yA:[0,0.2], pA:[624,440], ticks:[0,0.05,0.1,0.15,0.2], fmt:".2f",
  s:{REF:[Y5,cyREF],TAIR1:[Y5,cyTAIR1],TAIR2:[Y5,cyTAIR2],WIND:[Y5,cyWIND],CONST:[Y5,cyCONST],RUNOFF:[Y5,cyRUNOFF],FRESH:[Y5,cyFRESH],LOW:[Y5,cyLOW],OBC:[Y5,cyOBC],HIGH:[Y2,cyHIGH],CYANO:[Y5,cyCYANO],MSLR:[Y5,cyMSLR],MSLD:[Y5,cyMSLD]}},
 {col:0,row:3,title:[["Oxygen [ml l"],["−1","sup"],["]"]], yA:[6,8], pA:[804.3,669], ticks:[6,6.5,7,7.5,8], fmt:".1f",
  s:{REF:[Y5,oxREF],TAIR1:[Y5,oxTAIR1],TAIR2:[Y5,oxTAIR2],WIND:[Y5,oxWIND],CONST:[Y5,oxCONST],RUNOFF:[Y5,oxRUNOFF],FRESH:[Y5,oxFRESH],LOW:[Y5,oxLOW],OBC:[Y5,oxOBC],HIGH:[Y3,oxHIGH],CYANO:[Y5,oxCYANO],MSLR:[Y5,oxMSLR],MSLD:[Y5,oxMSLD]}},
 {col:1,row:3,title:[["Hypoxic area [10"],["3","sup"],[" km"],["2","sup"],["]"]], yA:[0,120], pA:[824,655.7], ticks:[0,20,40,60,80,100,120], fmt:"d",
  s:{REF:[hyYears,hyREF],TAIR1:[hyYears,hyTAIR1],TAIR2:[hyYears,hyTAIR2],WIND:[hyYears,hyWIND],CONST:[hyYears,hyCONST],RUNOFF:[hyYears,hyRUNOFF],FRESH:[hyYears,hyFRESH],LOW:[hyYears,hyLOW],OBC:[hyYears,hyOBC],HIGH:[hyHighYears,hyHIGH],CYANO:[hyYears,hyCYANO],MSLR:[hyYears,hyMSLR],MSLD:[hyYears,hyMSLD]}}
];

// ---------- layout ----------
const COLS = [{x0:33.8,x1:336,a:45,b:312.3},{x0:379,x1:680,a:390,b:655}];
const ROWS = [{y0:3,y1:201},{y0:218,y1:416},{y0:433,y1:631},{y0:648,y1:830.5}];
const BOX = "#555";

const svg = d3.select("body").append("svg").attr("width",685).attr("height",844);

panels.forEach((p,i)=>{
  const C = COLS[p.col], R = ROWS[p.row];
  const x = d3.scaleLinear().domain([1850,2000]).range([C.a,C.b]);
  const y = d3.scaleLinear().domain(p.yA).range(p.pA);
  const g = svg.append("g");
  g.append("clipPath").attr("id","clip"+i).append("rect")
    .attr("x",C.x0).attr("y",R.y0).attr("width",C.x1-C.x0).attr("height",R.y1-R.y0);
  const lg = g.append("g").attr("clip-path",`url(#clip${i})`);
  const line = d3.line().curve(d3.curveMonotoneX).x(d=>x(d[0])).y(d=>y(d[1]));
  ORDER.forEach(name=>{
    const s = p.s[name]; if(!s) return;
    const st = STYLE[name];
    lg.append("path").datum(d3.zip(s[0],s[1]))
      .attr("d",line).attr("fill","none").attr("stroke",st.c)
      .attr("stroke-width",st.w||1.6).attr("stroke-linejoin","round")
      .attr("stroke-dasharray",st.d||null);
  });
  // box
  g.append("rect").attr("x",C.x0).attr("y",R.y0).attr("width",C.x1-C.x0).attr("height",R.y1-R.y0)
    .attr("fill","none").attr("stroke",BOX).attr("stroke-width",1);
  // x axis
  const xa = g.append("g").attr("transform",`translate(0,${R.y1})`)
    .call(d3.axisBottom(x).tickValues(xTicks).tickSize(4).tickFormat(d3.format("d")));
  xa.select(".domain").remove();
  xa.selectAll("line").attr("stroke",BOX);
  xa.selectAll("text").attr("y",7).attr("dy","0.71em").attr("font-size",8).attr("fill","#222")
    .style("font-family",'"Liberation Sans",Arial,sans-serif');
  // y axis
  const ya = g.append("g").attr("transform",`translate(${C.x0},0)`)
    .call(d3.axisLeft(y).tickValues(p.ticks).tickSize(4).tickFormat(d3.format(p.fmt)));
  ya.select(".domain").remove();
  ya.selectAll("line").attr("stroke",BOX);
  ya.selectAll("text").attr("x",0).attr("y",-8.5).attr("dy",0).attr("text-anchor","middle")
    .attr("transform","rotate(-90)").attr("font-size",8).attr("fill","#222")
    .style("font-family",'"Liberation Sans",Arial,sans-serif');
  // title
  const t = g.append("text").attr("transform",`translate(${C.x0-20},${(R.y0+R.y1)/2}) rotate(-90)`)
    .attr("text-anchor","middle").attr("font-size",11.5);
  p.title.forEach(([txt,kind])=>{
    if(kind==="sup") t.append("tspan").attr("dy",-4.5).attr("font-size",7.5).text(txt);
    else t.append("tspan").attr("dy", t.selectAll("tspan").size() ? 4.5 : 0).text(txt);
  });
  // legend
  if(p.legend){
    const cols = [{lx0:68.3,lx1:85,tx:92.7,names:scenarios.slice(0,7)},{lx0:134,lx1:149.3,tx:156.7,names:scenarios.slice(7)}];
    cols.forEach(cc=>cc.names.forEach((nm,k)=>{
      const yy = 65.7 + 10*k;
      g.append("line").attr("x1",cc.lx0).attr("x2",cc.lx1).attr("y1",yy).attr("y2",yy)
        .attr("stroke",STYLE[nm].c).attr("stroke-width",2).attr("stroke-dasharray",STYLE[nm].d||null);
      g.append("text").attr("x",cc.tx).attr("y",yy+3).attr("font-size",8).text(nm);
    }));
  }
});
</script></body></html>
